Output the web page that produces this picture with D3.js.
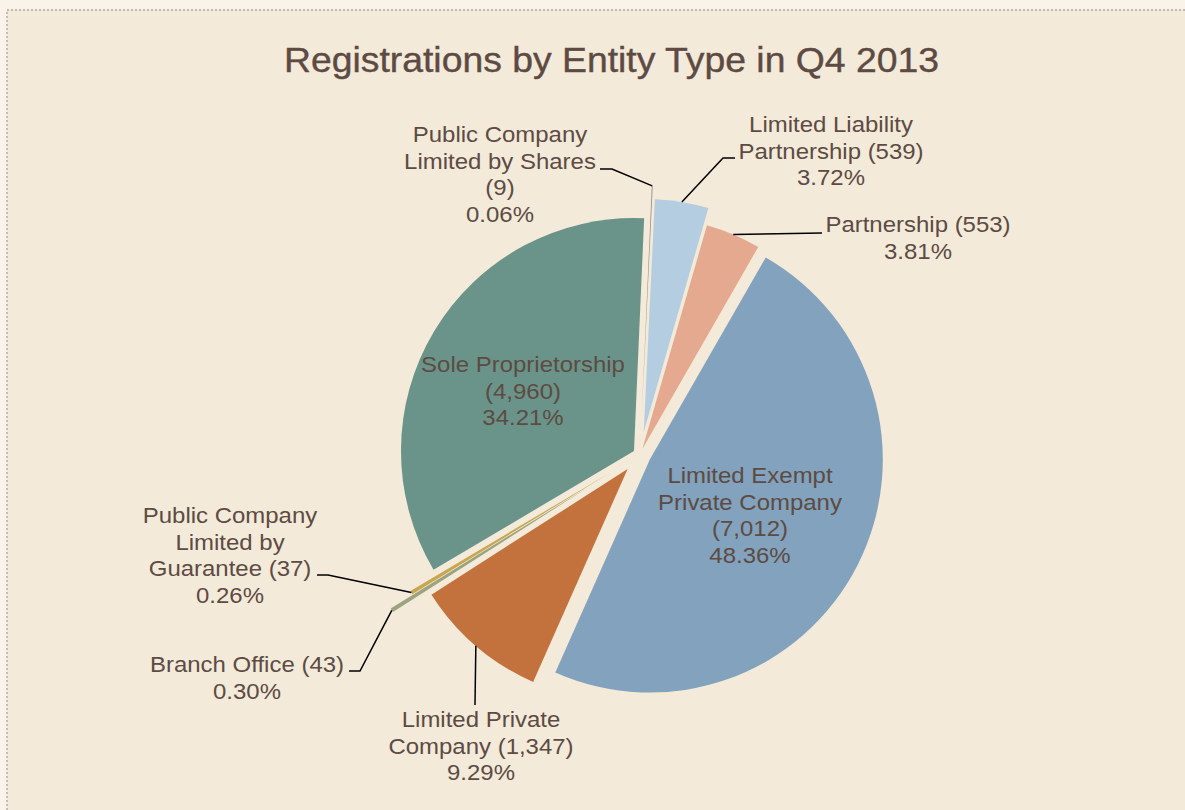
<!DOCTYPE html>
<html>
<head>
<meta charset="utf-8">
<script src="https://cdn.jsdelivr.net/npm/d3@7"></script>
<style>
  html, body { margin: 0; padding: 0; background: #f9f3ea; }
  svg { display: block; }
  text { font-family: "Liberation Sans", Arial, sans-serif; fill: #5d4b43; }
</style>
</head>
<body>
<svg id="chart" width="1185" height="810"></svg>
<script>
// data, in pie order (clockwise from the top)
const categories = [
  'Public Company Limited by Shares',
  'Limited Liability Partnership',
  'Partnership',
  'Limited Exempt Private Company',
  'Limited Private Company',
  'Branch Office',
  'Public Company Limited by Guarantee',
  'Sole Proprietorship'
];
const counts = [9, 539, 553, 7012, 1347, 43, 37, 4960];

// how each label wraps; {n} becomes the count
const labelLines = [
  ['Public Company', 'Limited by Shares', '{n}'],
  ['Limited Liability', 'Partnership {n}'],
  ['Partnership {n}'],
  ['Limited Exempt', 'Private Company', '{n}'],
  ['Limited Private', 'Company {n}'],
  ['Branch Office {n}'],
  ['Public Company', 'Limited by', 'Guarantee {n}'],
  ['Sole Proprietorship', '{n}']
];

const title = 'Registrations by Entity Type in Q4 2013';

// styling / layout
const colors = ['#9b8c82', '#b5cde0', '#e5a98f', '#82a2bd', '#c4723d', '#9da37e', '#c8a650', '#6a9489'];
const explode = [36, 23, 6, 11, 19, 60, 34, 7];
// label anchor (centre x, first baseline) and leader stub points from label toward slice
const labelPos = [
  { x: 500, y: 142, stub: [[600, 169], [612, 169]] },
  { x: 831, y: 132, stub: [[735, 158], [723, 158]] },
  { x: 918, y: 232, stub: [[822, 233]] },
  { x: 750, y: 483, stub: null },
  { x: 481, y: 727, stub: [[475, 705]] },
  { x: 247, y: 672, stub: [[349, 671], [360, 671]] },
  { x: 230, y: 523, stub: [[317, 575], [328, 575]] },
  { x: 523, y: 372, stub: null }
];

const cx = 640, cy = 454.6, R = 233;
const rot = 2.5 * Math.PI / 180;
const lineH = 26.7;

const svg = d3.select('#chart');

svg.append('rect')
  .attr('x', 7).attr('y', 10)
  .attr('width', 1200).attr('height', 820)
  .attr('fill', '#f3eada')
  .attr('stroke', '#b0a49b')
  .attr('stroke-width', 1.3)
  .attr('stroke-dasharray', '2,2');

svg.append('text')
  .attr('x', 611.5).attr('y', 72)
  .attr('text-anchor', 'middle')
  .attr('font-size', 35)
  .attr('textLength', 655)
  .attr('lengthAdjust', 'spacingAndGlyphs')
  .style('stroke', '#5d4b43')
  .style('stroke-width', 0.4)
  .text(title);

const total = d3.sum(counts);
const pct = d3.format('.2%');
const num = d3.format(',');

const items = categories.map((c, i) => ({ name: c, value: counts[i], i: i }));

const pie = d3.pie()
  .sort(null)
  .value(d => d.value)
  .startAngle(rot)
  .endAngle(rot + 2 * Math.PI);

const arc = d3.arc().innerRadius(0).outerRadius(R);
const arcs = pie(items);

function offset(d, r) {
  const a = (d.startAngle + d.endAngle) / 2;
  return [Math.sin(a) * r, -Math.cos(a) * r];
}

const g = svg.append('g').attr('transform', 'translate(' + cx + ',' + cy + ')');

g.selectAll('path.slice')
  .data(arcs)
  .enter().append('path')
  .attr('class', 'slice')
  .attr('d', arc)
  .attr('transform', d => {
    const o = offset(d, explode[d.data.i]);
    return 'translate(' + o[0] + ',' + o[1] + ')';
  })
  .attr('fill', d => colors[d.data.i]);

// leader lines
const line = d3.line();
arcs.forEach(d => {
  const lp = labelPos[d.data.i];
  if (!lp.stub) return;
  const end = offset(d, R + explode[d.data.i]);
  const pts = lp.stub.map(p => p.slice()).concat([[cx + end[0], cy + end[1]]]);
  svg.append('path')
    .attr('d', line(pts))
    .attr('fill', 'none')
    .attr('stroke', '#000')
    .attr('stroke-width', 1.5);
});

// labels
arcs.forEach(d => {
  const i = d.data.i;
  const lp = labelPos[i];
  const lines = labelLines[i].map(s => s.replace('{n}', '(' + num(counts[i]) + ')'))
    .concat([pct(counts[i] / total)]);
  const lg = svg.append('g')
    .attr('transform', 'translate(' + lp.x + ',' + lp.y + ') scale(1.12,1)');
  lg.selectAll('text')
    .data(lines)
    .enter().append('text')
    .attr('x', 0)
    .attr('y', (s, k) => k * lineH)
    .attr('text-anchor', 'middle')
    .attr('font-size', 21.4)
    .text(s => s);
});
</script>
</body>
</html>
